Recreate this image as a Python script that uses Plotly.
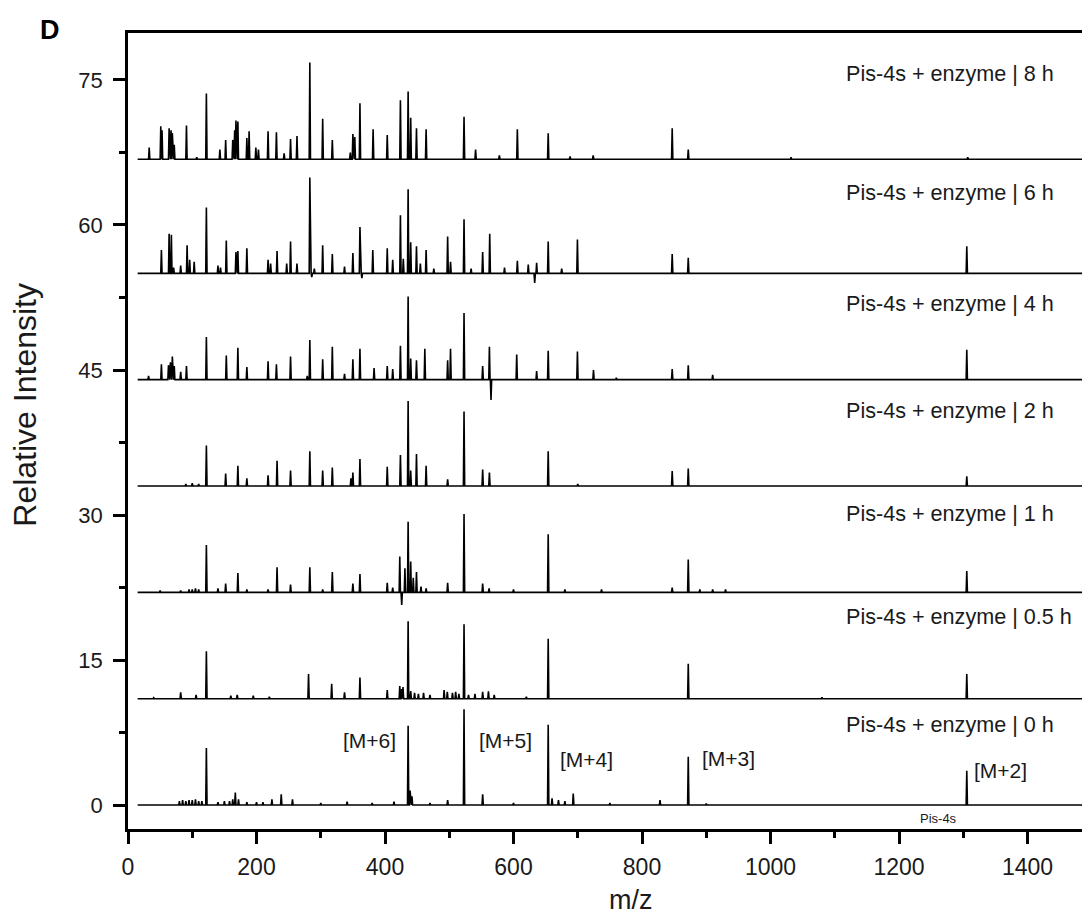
import plotly.graph_objects as go

# ---------------- data ----------------
# m/z positions and heights (relative intensity above each trace's baseline)
mz_8h = [33, 51, 53, 64, 67, 69, 72, 91, 107, 122, 143, 152, 163, 166, 168, 171, 185, 188.5, 199, 203,
         218, 231, 243, 253, 263, 283, 303, 318, 346, 350, 353, 361, 381.5, 403.5, 424, 436, 440, 449,
         464, 523, 541, 578, 606, 654, 688, 724, 847, 872, 1032, 1307]
int_8h = [1.2, 3.4, 3.0, 3.2, 3.0, 2.7, 1.5, 3.5, 0.2, 6.8, 1.0, 2.0, 2.0, 3.0, 4.0, 3.9, 2.2, 2.9, 1.2, 1.0,
          2.9, 2.8, 0.6, 2.1, 2.4, 10.0, 4.2, 2.0, 0.7, 2.6, 2.3, 5.8, 3.1, 2.5, 6.1, 7.0, 4.3, 3.2,
          3.1, 4.4, 1.0, 0.4, 3.1, 2.7, 0.3, 0.4, 3.2, 1.0, 0.2, 0.2]

mz_6h = [52, 64, 67.5, 71, 82, 92, 96, 103, 122, 140, 144, 153, 168, 171, 185, 218, 222, 232, 247, 253,
         263, 283, 286, 290, 303, 318, 337, 350, 361, 364, 381, 403.5, 412, 424, 428.5, 436, 440, 449,
         455, 464, 476, 497.5, 502, 523, 534, 552, 563, 586, 606, 623, 633, 636, 654, 675, 699.5,
         847, 872, 1305.5]
int_6h = [2.4, 4.1, 4.0, 0.6, 0.8, 2.9, 1.4, 1.2, 6.8, 0.8, 0.6, 3.4, 2.2, 2.3, 2.6, 1.4, 1.0, 2.3, 1.0, 3.3,
          1.0, 9.9, -0.4, 0.5, 2.9, 2.0, 0.7, 2.1, 4.8, -0.5, 2.4, 2.6, 1.4, 6.0, 1.5, 8.7, 3.2, 2.8,
          1.0, 2.4, 0.5, 3.8, 1.2, 5.6, 0.5, 2.2, 4.1, 0.6, 1.3, 0.9, -1.0, 1.1, 3.3, 0.5, 3.5,
          2.0, 1.6, 2.8]

mz_4h = [32, 52, 63, 66, 69, 72, 82, 91, 122, 153, 171, 185, 218, 231, 253, 279, 283, 303, 318, 337,
         350, 361, 383, 403.5, 412, 424, 436, 440, 449, 462, 497.5, 502, 523, 552, 562.5, 565, 605,
         636, 654, 699.5, 724.5, 760, 847, 872, 910, 1305.5]
int_4h = [0.4, 1.6, 1.5, 1.8, 2.4, 1.4, 0.8, 1.4, 4.4, 2.5, 3.3, 1.3, 1.9, 1.6, 2.4, 0.4, 4.1, 2.1, 3.4, 0.6,
          2.1, 3.2, 1.2, 1.4, 1.1, 3.5, 8.6, 2.2, 2.0, 3.2, 2.0, 3.2, 6.9, 1.4, 3.4, -2.1, 2.6,
          0.9, 3.0, 2.9, 1.0, 0.2, 1.1, 1.5, 0.5, 3.1]

mz_2h = [90, 100, 110, 122, 152, 171, 185, 218, 232, 253, 283, 303, 318, 347, 350, 361, 403.5, 424, 436,
         440, 449, 464, 497.5, 523, 552, 562.5, 654, 700, 847, 872, 1305.5]
int_2h = [0.2, 0.3, 0.2, 4.2, 1.3, 2.1, 0.8, 1.1, 2.6, 1.6, 3.6, 1.6, 1.9, 0.8, 1.4, 2.8, 2.0, 3.2, 8.8,
          1.6, 3.3, 2.1, 0.7, 7.7, 1.7, 1.4, 3.6, 0.2, 1.55, 1.8, 1.0]

mz_1h = [50, 82, 95, 100, 105, 110, 122, 140, 152, 171, 185, 218, 232, 253, 283, 303, 318, 350, 361,
         403.5, 412, 423, 426, 431, 436, 440, 444, 449, 456, 464, 497.5, 523, 552, 562, 600, 654, 680,
         737, 847, 872, 890, 910, 930, 1305.5]
int_1h = [0.2, 0.2, 0.3, 0.3, 0.4, 0.3, 4.9, 0.4, 0.9, 2.0, 0.3, 0.3, 2.6, 0.8, 2.6, 0.3, 2.1, 0.9, 1.9,
          1.0, 0.5, 3.7, -1.3, 2.5, 7.3, 3.2, 1.5, 2.1, 0.6, 0.4, 1.0, 8.1, 0.9, 0.4, 0.3, 6.0, 0.3,
          0.3, 0.5, 3.4, 0.3, 0.3, 0.3, 2.2]

mz_05h = [40, 82, 106, 122, 160, 170, 195, 220, 281, 317, 337, 361, 403.5, 423, 426, 428, 436, 440, 446,
          452, 460, 470, 492, 497, 505, 510, 515, 523, 530, 540, 552, 561, 570, 620, 654, 872, 1080,
          1305.5]
int_05h = [0.1, 0.65, 0.4, 4.9, 0.3, 0.4, 0.3, 0.2, 2.55, 1.55, 0.65, 2.2, 0.9, 1.3, 1.0, 1.2, 8.0, 0.8, 0.6,
           0.5, 0.6, 0.4, 0.9, 0.7, 0.6, 0.7, 0.5, 7.7, 0.4, 0.5, 0.7, 0.75, 0.4, 0.2, 6.2, 3.6, 0.15,
           2.55]

mz_0h = [80, 85, 90, 95, 100, 105, 110, 115, 122, 140, 150, 158, 163, 167, 172, 185, 200, 210, 224, 238.5,
         256, 300, 341, 380, 414, 436, 439, 442, 470, 497.5, 523, 552, 600, 654, 660, 670, 680, 693, 750,
         828, 872, 900, 1305.5]
int_0h = [0.4, 0.5, 0.4, 0.5, 0.5, 0.6, 0.4, 0.4, 5.9, 0.3, 0.4, 0.4, 0.6, 1.3, 0.6, 0.3, 0.3, 0.3, 0.6, 1.1,
          0.6, 0.2, 0.35, 0.2, 0.35, 8.2, 1.5, 0.9, 0.2, 0.5, 9.9, 1.1, 0.2, 8.3, 0.7, 0.5, 0.4, 1.2, 0.2,
          0.5, 5.0, 0.15, 3.55]

times = ["0 h", "0.5 h", "1 h", "2 h", "4 h", "6 h", "8 h"]
offsets = [0, 11, 22, 33, 44, 55, 66.8]
series_mz = [mz_0h, mz_05h, mz_1h, mz_2h, mz_4h, mz_6h, mz_8h]
series_int = [int_0h, int_05h, int_1h, int_2h, int_4h, int_6h, int_8h]

ion_labels = ["[M+6]", "[M+5]", "[M+4]", "[M+3]", "[M+2]"]

# ---------------- layout helpers ----------------
FONT = "Liberation Sans, Arial, sans-serif"
X_START, X_END = 15, 1495
HALF_W = 1.0


def build_trace(mz, inten, offset):
    xs, ys = [X_START], [offset]
    for m, h in sorted(zip(mz, inten)):
        xs += [m - HALF_W, m, m + HALF_W]
        ys += [offset, offset + h, offset]
    xs.append(X_END)
    ys.append(offset)
    return xs, ys


fig = go.Figure()
for mz, inten, off in zip(series_mz, series_int, offsets):
    xs, ys = build_trace(mz, inten, off)
    fig.add_trace(go.Scatter(x=xs, y=ys, mode="lines",
                             line=dict(color="black", width=1.6),
                             showlegend=False, hoverinfo="skip"))

annotations = []
# time labels (left-aligned)
label_y = [8.3, 19.5, 30.2, 40.8, 51.9, 63.4, 75.7]
for t, ly in zip(times, label_y):
    annotations.append(dict(x=1114, y=ly, xref="x", yref="y", text="Pis-4s + enzyme | " + t,
                            showarrow=False, xanchor="left", yanchor="middle",
                            font=dict(family=FONT, size=21.6, color="#1a1a1a")))

# ion labels on the 0 h trace
ion_pos = [(376, 6.7), (587, 6.7), (713, 4.7), (934, 4.8), (1358, 3.6)]
for txt, (px, py) in zip(ion_labels, ion_pos):
    annotations.append(dict(x=px, y=py, xref="x", yref="y", text=txt, showarrow=False,
                            xanchor="center", yanchor="middle",
                            font=dict(family=FONT, size=21, color="#1a1a1a")))

annotations.append(dict(x=1262, y=-1.4, xref="x", yref="y", text="Pis-4s", showarrow=False,
                        xanchor="center", yanchor="middle",
                        font=dict(family=FONT, size=13, color="#1a1a1a")))

# axis titles and panel letter
annotations.append(dict(x=0.527, y=-0.089, xref="paper", yref="paper", text="m/z", showarrow=False,
                        xanchor="center", yanchor="middle",
                        font=dict(family=FONT, size=27, color="#1a1a1a")))
annotations.append(dict(x=-0.108, y=0.533, xref="paper", yref="paper", text="Relative Intensity",
                        textangle=-90, showarrow=False, xanchor="center", yanchor="middle",
                        font=dict(family=FONT, size=32, color="#1a1a1a")))
annotations.append(dict(x=-0.0818, y=1.004, xref="paper", yref="paper", text="<b>D</b>",
                        showarrow=False, xanchor="center", yanchor="middle",
                        font=dict(family=FONT, size=27, color="black")))

fig.update_layout(
    width=1082, height=920,
    margin=dict(l=128, r=0, t=33, b=91),
    paper_bgcolor="white", plot_bgcolor="white",
    annotations=annotations,
    showlegend=False,
)

fig.update_xaxes(
    range=[0, 954 / 0.6425],
    tick0=0, dtick=200,
    ticks="outside", ticklen=12, tickwidth=2.5, tickcolor="black",
    minor=dict(dtick=100, ticks="outside", ticklen=6, tickwidth=2.5, tickcolor="black", showgrid=False),
    showline=True, linewidth=2.5, linecolor="black", mirror=True,
    showgrid=False, zeroline=False,
    ticklabelstandoff=4,
    tickfont=dict(family=FONT, size=23, color="#1a1a1a"),
)
fig.update_yaxes(
    range=[-2.48, 79.86],
    tick0=0, dtick=15,
    ticks="outside", ticklen=12, tickwidth=2.5, tickcolor="black",
    minor=dict(dtick=7.5, ticks="outside", ticklen=6, tickwidth=2.5, tickcolor="black", showgrid=False),
    showline=True, linewidth=2.5, linecolor="black", mirror=False,
    showgrid=False, zeroline=False,
    ticklabelstandoff=6,
    tickfont=dict(family=FONT, size=22, color="#1a1a1a"),
)

fig.write_html("out.html")
